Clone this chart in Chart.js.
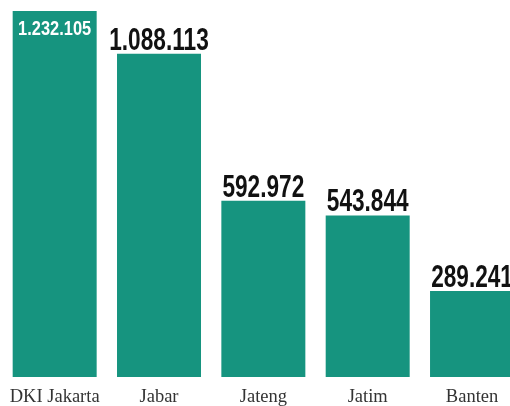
<!DOCTYPE html>
<html>
<head>
<meta charset="utf-8">
<script src="https://cdn.jsdelivr.net/npm/chart.js@4.4.1/dist/chart.umd.min.js"></script>
<style>
  html, body { margin: 0; padding: 0; background: #fff; overflow: hidden; }
  #wrap { width: 510px; height: 406px; overflow: hidden; position: relative; }
  #wrap canvas { position: absolute; left: 0; top: 0; }
</style>
</head>
<body>
<div id="wrap"><canvas id="chart" width="526" height="418" style="width:526px;height:418px"></canvas></div>
<script>
// Data
const provinces = ["DKI Jakarta", "Jabar", "Jateng", "Jatim", "Banten"];
const values = [1232105, 1088113, 592972, 543844, 289241];

const BAR = "#16947f";

// 1232105 -> "1.232.105"
function fmt(v) { return String(v).replace(/\B(?=(\d{3})+(?!\d))/g, "."); }

// condensed value labels: above the bar, or inside (white) when there is no room
const valueLabels = {
  id: "valueLabels",
  afterDatasetsDraw(chart) {
    const ctx = chart.ctx;
    const meta = chart.getDatasetMeta(0);
    const area = chart.chartArea;
    meta.data.forEach((bar, i) => {
      const text = fmt(values[i]);
      const digits = text.replace(/\D/g, "").length;
      const dots = text.length - digits;
      const inside = bar.y - 30 < area.top;
      const size = inside ? 20 : 32;
      const target = inside ? digits * 9.4 + dots * 3.65 : digits * 12.8 + dots * 5;
      const y = inside ? bar.y + 24 : bar.y - 4;
      ctx.save();
      ctx.font = `bold ${size}px "Liberation Sans Narrow", "Liberation Sans", sans-serif`;
      ctx.textAlign = "center";
      ctx.textBaseline = "alphabetic";
      ctx.fillStyle = inside ? "#ffffff" : "#111111";
      const sx = target / ctx.measureText(text).width;
      ctx.translate(bar.x, y);
      ctx.scale(sx, 1);
      ctx.fillText(text, 0, 0);
      ctx.restore();
    });
  }
};

new Chart(document.getElementById("chart"), {
  type: "bar",
  data: {
    labels: provinces,
    datasets: [{
      data: values,
      backgroundColor: BAR,
      borderWidth: 0,
      barPercentage: 0.805,
      categoryPercentage: 1,
    }],
  },
  options: {
    responsive: false,
    animation: false,
    layout: { padding: { top: 11, left: 2.5, right: 1.8, bottom: 0 } },
    plugins: { legend: { display: false }, tooltip: { enabled: false } },
    scales: {
      x: {
        grid: { display: false, drawTicks: false },
        border: { display: false },
        ticks: {
          color: "#333333",
          padding: 9.4,
          font: { family: "'Liberation Serif', serif", size: 18.5 },
        },
      },
      y: {
        display: false,
        min: 0,
        max: Math.max(...values),
      },
    },
  },
  plugins: [valueLabels],
});
</script>
</body>
</html>
